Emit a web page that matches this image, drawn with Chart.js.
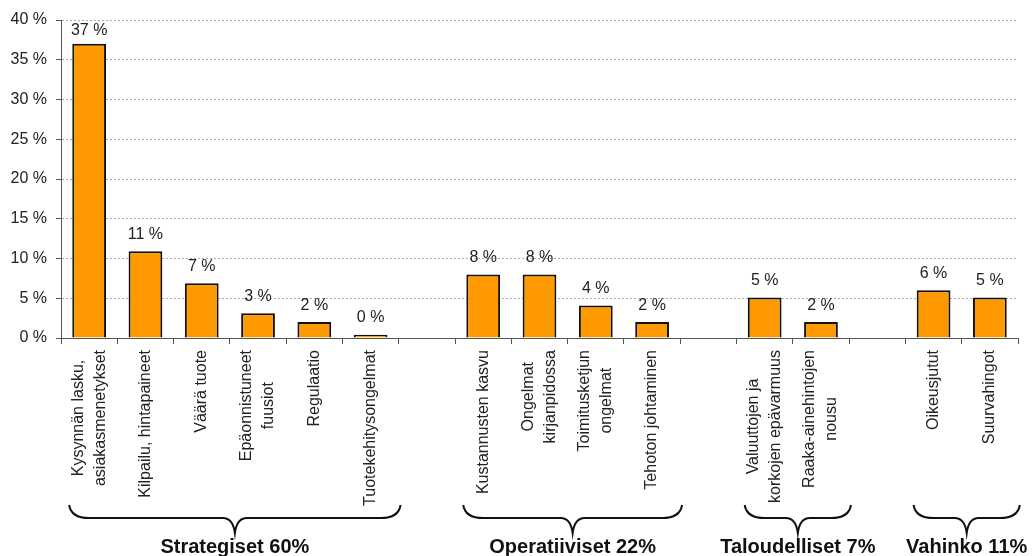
<!DOCTYPE html>
<html>
<head>
<meta charset="utf-8">
<script src="https://cdn.jsdelivr.net/npm/chart.js@4/dist/chart.umd.min.js"></script>
<style>
  body { margin: 0; background: #fff; }
  #wrap { width: 1035px; height: 556px; position: relative; }
</style>
</head>
<body>
<div id="wrap"><canvas id="risk-chart"></canvas></div>
<script>
// categories (empty entries are the gaps between the groups)
const categories = [
  ["Kysynnän lasku,", "asiakasmenetykset"],
  ["Kilpailu, hintapaineet"],
  ["Väärä tuote"],
  ["Epäonnistuneet", "fuusiot"],
  ["Regulaatio"],
  ["Tuotekehitysongelmat"],
  [""],
  ["Kustannusten kasvu"],
  ["Ongelmat", "kirjanpidossa"],
  ["Toimitusketjun", "ongelmat"],
  ["Tehoton johtaminen"],
  [""],
  ["Valuuttojen ja", "korkojen epävarmuus"],
  ["Raaka-ainehintojen", "nousu"],
  [""],
  ["Oikeusjutut"],
  ["Suurvahingot"],
]
const values = [37, 10.9, 6.9, 3.1, 2, 0.4, null, 8, 8, 4.1, 2, null, 5.1, 2, null, 6, 5.1]
const valueLabels = ["37 %", "11 %", "7 %", "3 %", "2 %", "0 %", "", "8 %", "8 %", "4 %", "2 %", "", "5 %", "2 %", "", "6 %", "5 %"]

// y axis
const yMin = 0
const yMax = 40
const yStep = 5

// groups shown with braces under the labels
const groupNames = ["Strategiset 60%", "Operatiiviset 22%", "Taloudelliset 7%", "Vahinko 11%"]
const groupFirst = [0, 7, 12, 15]
const groupLast = [5, 10, 13, 16]

const textFont = "'Liberation Sans', Arial, sans-serif"

// value labels, rotated category labels, braces
const annotate = {
  id: "annotate",
  afterDatasetsDraw(chart) {
    const ctx = chart.ctx
    const x = chart.scales.x
    const meta = chart.getDatasetMeta(0)
    ctx.save()
    ctx.fillStyle = "#222"
    ctx.font = "16px " + textFont

    // labels above the bars
    ctx.textAlign = "center"
    ctx.textBaseline = "middle"
    meta.data.forEach((bar, i) => {
      if (values[i] == null) return
      const ty = Math.max(bar.y - 17, chart.chartArea.top + 11)
      ctx.fillText(valueLabels[i], bar.x, ty)
    })

    // category labels, read bottom to top, lines centred on the longest one
    categories.forEach((lines, i) => {
      const cx = x.getPixelForValue(i)
      const maxW = Math.max(...lines.map((s) => ctx.measureText(s).width))
      lines.forEach((line, j) => {
        ctx.save()
        ctx.translate(cx + (j - (lines.length - 1) / 2) * 22, x.top + 12)
        ctx.rotate(-Math.PI / 2)
        ctx.textAlign = "center"
        ctx.fillText(line, -maxW / 2, 0)
        ctx.restore()
      })
    })

    // braces and group names
    const by0 = x.top + 167
    const by1 = x.top + 180
    const by2 = x.top + 195
    ctx.strokeStyle = "#111"
    ctx.lineWidth = 2
    ctx.font = "bold 20px " + textFont
    ctx.textBaseline = "alphabetic"
    groupNames.forEach((name, g) => {
      const l = x.getPixelForValue(groupFirst[g]) - 20
      const r = x.getPixelForValue(groupLast[g]) + 30
      const c = (l + r) / 2
      ctx.beginPath()
      ctx.moveTo(l, by0)
      ctx.quadraticCurveTo(l + 2, by1, l + 20, by1)
      ctx.lineTo(c - 12, by1)
      ctx.quadraticCurveTo(c - 2, by1, c, by2)
      ctx.quadraticCurveTo(c + 2, by1, c + 12, by1)
      ctx.lineTo(r - 20, by1)
      ctx.quadraticCurveTo(r - 2, by1, r, by0)
      ctx.stroke()
      ctx.fillStyle = "#111"
      ctx.textAlign = "center"
      ctx.fillText(name, c, x.top + 215)
    })
    ctx.restore()
  },
}

const riskData = {
  labels: categories,
  datasets: [
    {
      data: values,
      backgroundColor: "#FF9900",
      borderColor: "#111",
      borderWidth: 2,
      barPercentage: 0.6,
      categoryPercentage: 1.0,
    },
  ],
}

const riskOptions = {
  responsive: true,
  maintainAspectRatio: false,
  animation: false,
  layout: {
    padding: { top: 20, right: 17, left: 0, bottom: 0 },
  },
  scales: {
    x: {
      afterFit: (scale) => {
        scale.height = 218
      },
      ticks: { display: false },
      grid: {
        display: true,
        offset: true,
        drawOnChartArea: false,
        tickLength: 6,
        color: "#555",
      },
      border: { color: "#555", width: 1 },
    },
    y: {
      min: yMin,
      max: yMax,
      afterFit: (scale) => {
        scale.width = 61
      },
      ticks: {
        stepSize: yStep,
        padding: 9,
        color: "#222",
        font: { family: textFont, size: 16 },
        callback: (v) => v + " %",
      },
      grid: {
        color: "#a8a8a8",
        tickColor: "#555",
        tickLength: 5,
      },
      border: { color: "#555", width: 1, dash: [2, 2] },
    },
  },
  plugins: {
    legend: { display: false },
    tooltip: { enabled: false },
  },
}

let riskChart = new Chart(document.getElementById("risk-chart"), {
  type: "bar",
  data: riskData,
  options: riskOptions,
  plugins: [annotate],
})
</script>
</body>
</html>
